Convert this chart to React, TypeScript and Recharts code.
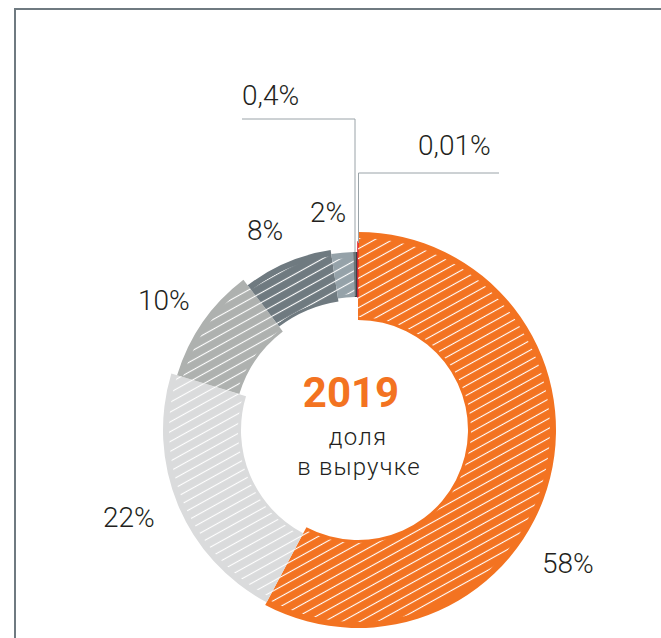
import React from 'react';
import { PieChart, Pie, Cell } from 'recharts';

// revenue share 2019, clockwise from 12 o'clock
const shareNames = ['s58', 's22', 's10', 's8', 's2', 's04', 's001'];
const shareValues = [58, 22, 10, 8, 2, 0.4, 0.01];
const shareLabels = ['58%', '22%', '10%', '8%', '2%', '0,4%', '0,01%'];

const data = shareNames.map((name, i) => ({ name, value: shareValues[i] }));

// styling per ring segment
const colors = ['#F37321', '#DADBDC', '#AEB1AF', '#6F7A80', '#95A2A9', '#3B4247', '#E3222B'];
const innerR = [110, 117, 124, 130, 133, 133, 133];
const outerR = [198, 195, 189, 182, 178, 178, 188];
const hatched = [true, true, true, true, true, false, false];

// label anchors (text start, baseline)
const labelPos: [number, number][] = [
  [542, 573],
  [103, 527],
  [138, 310],
  [247, 240],
  [310, 222],
  [242, 105],
  [418, 155],
];

const CX = 358;
const CY = 430;
const textFont = 'Roboto, "DejaVu Sans", sans-serif';

export default function App() {
  return (
    <div style={{ position: 'absolute', left: 0, top: 0, width: 661, height: 638, background: '#fff', overflow: 'hidden' }}>
      <div style={{ position: 'absolute', left: 0, top: 0 }}>
        <PieChart width={661} height={638} margin={{ top: 0, right: 0, bottom: 0, left: 0 }}>
          <defs>
            <pattern id="hatch" patternUnits="userSpaceOnUse" width={12} height={8.6} patternTransform="rotate(-29)">
              <line x1={0} y1={4.3} x2={12} y2={4.3} stroke="#fff" strokeWidth={1.1} />
            </pattern>
          </defs>
          {shareValues.map((_, i) => (
            <Pie
              key={'base-' + i}
              data={data}
              dataKey="value"
              nameKey="name"
              cx={CX}
              cy={CY}
              innerRadius={innerR[i]}
              outerRadius={outerR[i]}
              startAngle={90}
              endAngle={-270}
              stroke="none"
              isAnimationActive={false}
            >
              {data.map((_, j) => (
                <Cell
                  key={j}
                  fill={j === i ? colors[i] : 'none'}
                  stroke={j === i && i === 6 ? colors[6] : 'none'}
                  strokeWidth={1.3}
                />
              ))}
            </Pie>
          ))}
          {shareValues.map((_, i) =>
            hatched[i] ? (
              <Pie
                key={'hatch-' + i}
                data={data}
                dataKey="value"
                nameKey="name"
                cx={CX}
                cy={CY}
                innerRadius={innerR[i] + 3}
                outerRadius={outerR[i] - 6}
                startAngle={90}
                endAngle={-270}
                stroke="none"
                isAnimationActive={false}
              >
                {data.map((_, j) => (
                  <Cell key={j} fill={j === i ? 'url(#hatch)' : 'none'} stroke="none" />
                ))}
              </Pie>
            ) : null
          )}
        </PieChart>
      </div>
      <svg width={661} height={638} style={{ position: 'absolute', left: 0, top: 0, pointerEvents: 'none' }}>
        {/* frame */}
        <line x1={14} y1={9} x2={661} y2={9} stroke="#6F7A81" strokeWidth={2} />
        <line x1={15} y1={8} x2={15} y2={638} stroke="#6F7A81" strokeWidth={2} />
        {/* leader lines for the tiny shares */}
        <polyline points="242,119 355,119 355,296" fill="none" stroke="#9AA3A8" strokeWidth={1} />
        <polyline points="499,173 358.5,173 358.5,243" fill="none" stroke="#9AA3A8" strokeWidth={1} />
        {shareLabels.map((t, i) => (
          <text
            key={t}
            x={labelPos[i][0]}
            y={labelPos[i][1]}
            fontFamily={textFont}
            fontWeight={300}
            fontSize={28}
            fill="#231F20"
          >
            {t}
          </text>
        ))}
        <text x={351} y={407} textAnchor="middle" fontFamily={textFont} fontWeight={700} fontSize={42} fill="#F37321">
          2019
        </text>
        <text x={358} y={445} textAnchor="middle" fontFamily={textFont} fontWeight={300} fontSize={24} letterSpacing={1.2} fill="#231F20">
          доля
        </text>
        <text x={359} y={475} textAnchor="middle" fontFamily={textFont} fontWeight={300} fontSize={24} letterSpacing={1.2} fill="#231F20">
          в выручке
        </text>
      </svg>
    </div>
  );
}
